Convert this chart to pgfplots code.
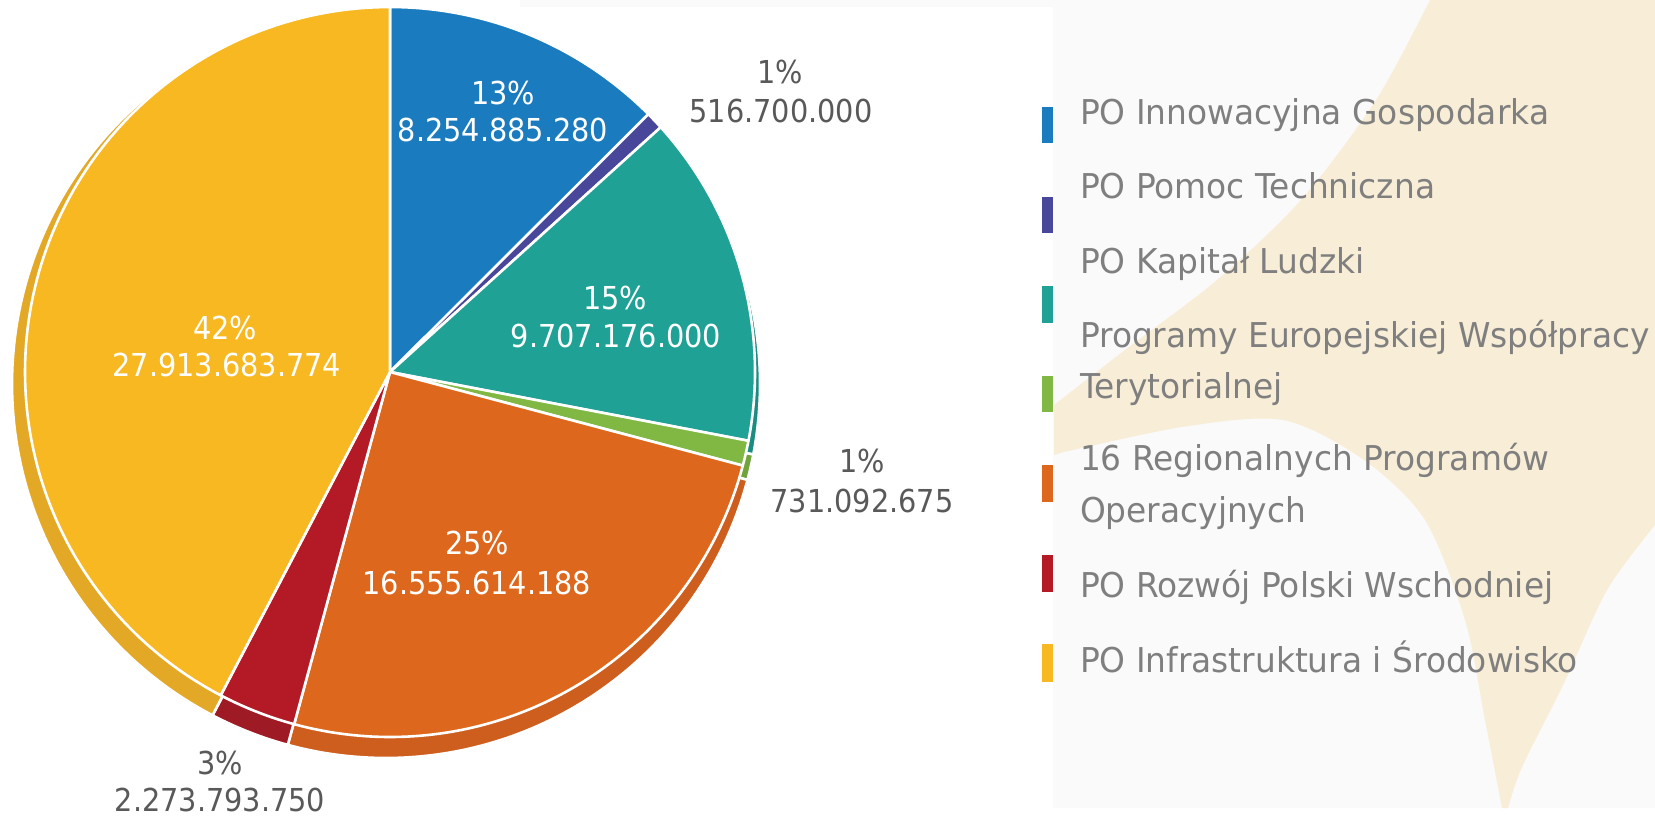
\documentclass[border=0pt]{standalone}
\usepackage{pgfplots}
\pgfplotsset{compat=1.18}
\usepackage{fontspec}
\setmainfont{DejaVu Sans}
\newfontfamily\labfont{DejaVu Sans}[FakeStretch=0.91]
\newfontfamily\legfont{DejaVu Sans}[FakeStretch=0.96]

\definecolor{cBlue}{HTML}{1A7BBF}
\definecolor{cPurple}{HTML}{48479A}
\definecolor{cTeal}{HTML}{1FA195}
\definecolor{cGreen}{HTML}{80B843}
\definecolor{cOrange}{HTML}{DD671C}
\definecolor{cRed}{HTML}{B41A25}
\definecolor{cYellow}{HTML}{F7B821}
\definecolor{rBlue}{HTML}{166BA6}
\definecolor{rPurple}{HTML}{3D3C85}
\definecolor{rTeal}{HTML}{1A8C82}
\definecolor{rGreen}{HTML}{70A33A}
\definecolor{rOrange}{HTML}{CE5E1E}
\definecolor{rRed}{HTML}{9E1A24}
\definecolor{rYellow}{HTML}{E3A825}
\definecolor{txtIn}{HTML}{FFFFFF}
\definecolor{txtOut}{HTML}{595959}
\definecolor{txtLeg}{HTML}{7F7F7F}
\definecolor{panel}{HTML}{FAFAFA}
\definecolor{cream}{HTML}{F8EDD6}

% values (billions PLN)
\def\vIG{8.254885280}   % PO Innowacyjna Gospodarka
\def\vPT{0.516700000}   % PO Pomoc Techniczna
\def\vKL{9.707176000}   % PO Kapital Ludzki
\def\vEWT{0.731092675}  % Programy EWT
\def\vRPO{16.555614188} % 16 RPO
\def\vRPW{2.273793750}  % PO RPW
\def\vIS{27.913683774}  % PO IiS

\pgfmathsetmacro\tot{\vIG+\vPT+\vKL+\vEWT+\vRPO+\vRPW+\vIS}
\pgfmathsetmacro\aA{90}
\pgfmathsetmacro\aB{\aA-360*\vIG/\tot}
\pgfmathsetmacro\aC{\aB-360*\vPT/\tot}
\pgfmathsetmacro\aD{\aC-360*\vKL/\tot}
\pgfmathsetmacro\aE{\aD-360*\vEWT/\tot}
\pgfmathsetmacro\aF{\aE-360*\vRPO/\tot}
\pgfmathsetmacro\aG{\aF-360*\vRPW/\tot}
\pgfmathsetmacro\aH{-270}

% #1 colour, #2 cx, #3 cy, #4 radius, #5 low angle, #6 high angle
\newcommand\pieslice[6]{%
  \addplot[fill=#1, draw=white, line width=0.65pt, line join=round,
    domain=#5:#6, samples=120, variable=\t]
    ({#2+#4*cos(\t)},{#3+#4*sin(\t)}) -- (axis cs:#2,#3) -- cycle;
}

\begin{document}
\begin{tikzpicture}
\begin{axis}[x=0.25pt, y=0.25pt, xmin=0, xmax=1655, ymin=0, ymax=816,
  hide axis, clip=false, scale only axis]
\coordinate (SW) at (axis cs:0,0);
\coordinate (NE) at (axis cs:1655,816);
\fill[white] (axis cs:0,0) rectangle (axis cs:1655,816);
\fill[panel] (axis cs:520,809) rectangle (axis cs:1655,816);
\fill[panel] (axis cs:1053,8) rectangle (axis cs:1655,816);
\fill[cream] (axis cs:1054,361) -- plot[smooth] coordinates {(axis cs:1054,411) (axis cs:1125,466) (axis cs:1217,536) (axis cs:1301,616) (axis cs:1376,716) (axis cs:1430,816)}
  -- (axis cs:1655,816) -- (axis cs:1655,291)
  -- plot[smooth] coordinates {(axis cs:1655,291) (axis cs:1607,226) (axis cs:1564,133) (axis cs:1522,49) (axis cs:1508,8)}
  -- plot[smooth] coordinates {(axis cs:1502,8) (axis cs:1485,96) (axis cs:1465,196) (axis cs:1425,296) (axis cs:1364,356) (axis cs:1283,396) (axis cs:1182,389) (axis cs:1060,363)} -- cycle;

% rims (3D edge)
\pieslice{rBlue}{386}{432}{374}{\aB}{\aA}
\pieslice{rPurple}{386}{432}{374}{\aC}{\aB}
\pieslice{rTeal}{386}{432}{374}{\aD}{\aC}
\pieslice{rGreen}{386}{432}{374}{\aE}{\aD}
\pieslice{rOrange}{386}{432}{374}{\aF}{\aE}
\pieslice{rRed}{386}{432}{374}{\aG}{\aF}
\pieslice{rYellow}{386}{432}{374}{\aH}{\aG}
% main slices
\pieslice{cBlue}{390}{444}{365}{\aB}{\aA}
\pieslice{cPurple}{390}{444}{365}{\aC}{\aB}
\pieslice{cTeal}{390}{444}{365}{\aD}{\aC}
\pieslice{cGreen}{390}{444}{365}{\aE}{\aD}
\pieslice{cOrange}{390}{444}{365}{\aF}{\aE}
\pieslice{cRed}{390}{444}{365}{\aG}{\aF}
\pieslice{cYellow}{390}{444}{365}{\aH}{\aG}

% slice labels
\begin{scope}[every node/.style={inner sep=0pt, outer sep=0pt, anchor=base, font=\labfont\fontsize{7.9}{9}\selectfont}]
\node[text=txtIn] at (axis cs:503,712) {13\%};
\node[text=txtIn] at (axis cs:503,675) {8.254.885.280};
\node[text=txtOut] at (axis cs:780,732) {1\%};
\node[text=txtOut] at (axis cs:781,694) {516.700.000};
\node[text=txtIn] at (axis cs:615,507) {15\%};
\node[text=txtIn] at (axis cs:616,469) {9.707.176.000};
\node[text=txtOut] at (axis cs:862,344) {1\%};
\node[text=txtOut] at (axis cs:862,304) {731.092.675};
\node[text=txtIn] at (axis cs:477,262) {25\%};
\node[text=txtIn] at (axis cs:477,222) {16.555.614.188};
\node[text=txtOut] at (axis cs:220,42) {3\%};
\node[text=txtOut] at (axis cs:220,4.5) {2.273.793.750};
\node[text=txtIn] at (axis cs:225,477) {42\%};
\node[text=txtIn] at (axis cs:227,440) {27.913.683.774};
\end{scope}

% legend markers
\fill[cBlue]   (axis cs:1042,673) rectangle (axis cs:1053,709);
\fill[cPurple] (axis cs:1042,583) rectangle (axis cs:1053,619);
\fill[cTeal]   (axis cs:1042,493) rectangle (axis cs:1053,530);
\fill[cGreen]  (axis cs:1042,404) rectangle (axis cs:1053,440);
\fill[cOrange] (axis cs:1042,314) rectangle (axis cs:1053,351);
\fill[cRed]    (axis cs:1042,224) rectangle (axis cs:1053,261);
\fill[cYellow] (axis cs:1042,134) rectangle (axis cs:1053,172);

% legend texts
\begin{scope}[every node/.style={inner sep=0pt, outer sep=0pt, anchor=base west, text=txtLeg, font=\legfont\fontsize{8.55}{10}\selectfont}]
\node at (axis cs:1080,691.5) {PO Innowacyjna Gospodarka};
\node at (axis cs:1080,617.5) {PO Pomoc Techniczna};
\node at (axis cs:1080,542.5) {PO Kapitał Ludzki};
\node at (axis cs:1080,468.5) {Programy Europejskiej Współpracy};
\node at (axis cs:1080,417.5) {Terytorialnej};
\node at (axis cs:1080,345.5) {16 Regionalnych Programów};
\node at (axis cs:1080,293.5) {Operacyjnych};
\node at (axis cs:1080,218.5) {PO Rozwój Polski Wschodniej};
\node at (axis cs:1080,143.5) {PO Infrastruktura i Środowisko};
\end{scope}
\end{axis}
\pgfresetboundingbox
\path[use as bounding box] (SW) rectangle (NE);
\end{tikzpicture}
\end{document}
